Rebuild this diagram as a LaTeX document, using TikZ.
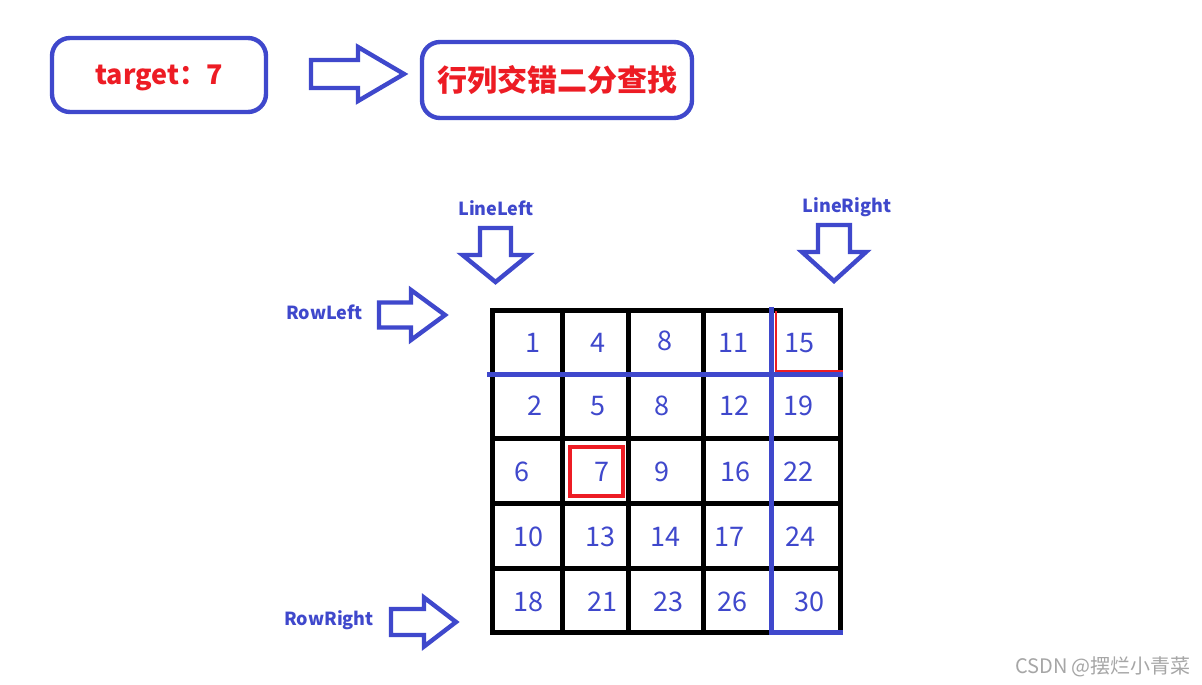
\documentclass[tikz,border=0pt]{standalone}
\usepackage{fontspec}
\setmainfont{Noto Sans CJK SC}
\definecolor{inkblue}{HTML}{3F48CC}
\definecolor{accentred}{HTML}{ED1C24}
\definecolor{markgray}{HTML}{A6A6A6}
\tikzset{
  roundbox/.style={draw=inkblue,fill=white,line width=2.2pt,rounded corners=9pt,
                   align=center,text=accentred},
  hollowarr/.style={draw=inkblue,line width=2.2pt,line join=miter},
  pointer/.style={font=\bfseries\fontsize{9}{10}\selectfont,text=inkblue},
  cellnum/.style={font=\fontsize{13.5}{15}\selectfont,text=inkblue,inner sep=0pt},
  gridline/.style={draw=black,line width=2.5pt,line cap=rect},
  cutline/.style={draw=inkblue,line width=2.5pt}
}
\begin{document}
\begin{tikzpicture}[x=0.5pt,y=-0.5pt]
  \fill[white] (0,0) rectangle (1202,684);
  \useasboundingbox (0,0) rectangle (1202,684);
  % top row
  \node[roundbox,minimum width=107pt,minimum height=37pt,text depth=0pt,
        font=\bfseries\fontsize{13.5}{15}\selectfont] (target) at (159,75) {target：7};
  \node[roundbox,minimum width=135pt,minimum height=38pt,
        font=\bfseries\fontsize{15}{18}\selectfont] (method) at (557,80) {行列交错二分查找};
  % hollow arrows
  \foreach \ax/\ay/\rot/\sl/\sw/\hl/\hw in {311/74/0/47/14/46/27, 379/315/0/32/12.5/34/25,
      391/622/0/33/13/32/24.5, 495.5/228/-90/27/15.5/27/33, 834/225/-90/27/16/29/32}
    \draw[hollowarr,shift={(\ax,\ay)},rotate=\rot]
      (0,-\sw)--(\sl,-\sw)--(\sl,-\hw)--(\sl+\hl,0)--(\sl,\hw)--(\sl,\sw)--(0,\sw)--cycle;
  \node[pointer,anchor=base] (lineleft) at (496,215) {LineLeft};
  \node[pointer,anchor=base] (lineright) at (847,213) {LineRight};
  \node[pointer,anchor=base] (rowleft) at (324.5,319) {RowLeft};
  \node[pointer,anchor=base] (rowright) at (329,625) {RowRight};
  % matrix grid
  \foreach \gx in {492,562.5,628,703.5,840}
    \draw[gridline] (\gx,310)--(\gx,632);
  \foreach \gy in {310,438,503,568}
    \draw[gridline] (492,\gy)--(840,\gy);
  \draw[gridline] (492,632)--(771.5,632);
  \foreach \nx/\ny/\val [count=\k] in {533/343/1, 598/343/4, 664.5/341/8, 733.5/343/11, 799/343/15,
      534.5/406/2, 597.5/406/5, 662/406/8, 734.5/406/12, 798.5/406/19,
      522/471.5/6, 602/471.5/7, 661.5/471.5/9, 735/471.5/16, 798/471.5/22,
      528/536.5/10, 600.5/536.5/13, 665/536.5/14, 729/536.5/17, 800/536.5/24,
      528/601.5/18, 602/601.5/21, 668/601.5/23, 732/601.5/26, 809.5/601.5/30}
    \node[cellnum] (cell\k) at (\nx,\ny) {\val};
  % search window
  \draw[cutline] (487,374)--(843,374);
  \draw[cutline] (771.5,307)--(771.5,632)--(843,632);
  \draw[accentred,line width=1pt] (775.5,311)--(775.5,370.5)--(843,370.5);
  \node[draw=accentred,line width=2pt,minimum width=26.5pt,minimum height=24.5pt,
        inner sep=0pt] (hit) at (596,471) {};
  \node[font=\fontsize{10}{12}\selectfont,text=markgray,anchor=base] (mark) at (1103,673)
    {CSDN @摆烂小青菜};
\end{tikzpicture}
\end{document}
